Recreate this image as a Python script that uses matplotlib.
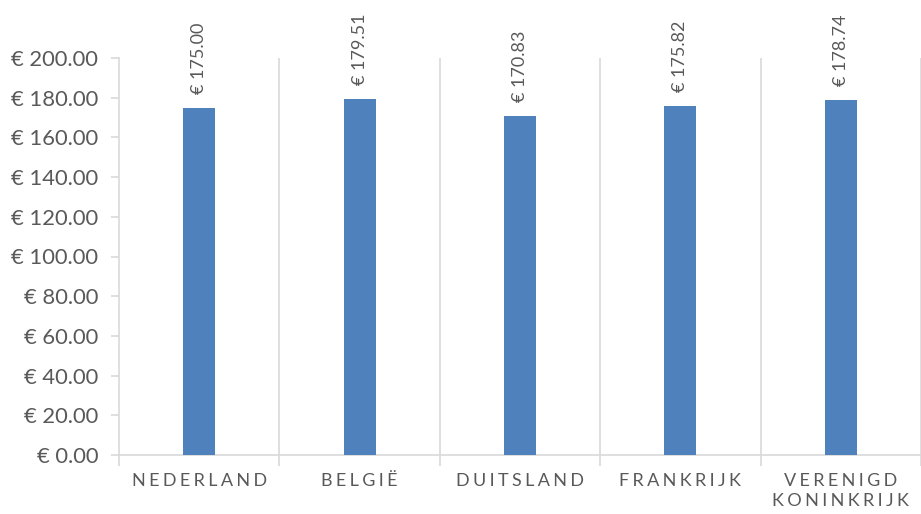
import numpy as np
import matplotlib.pyplot as plt

# Data
countries = ['NEDERLAND', 'BELGIË', 'DUITSLAND', 'FRANKRIJK', 'VERENIGD\nKONINKRIJK']
prices = [175.00, 179.51, 170.83, 175.82, 178.74]
yticks = [0, 20, 40, 60, 80, 100, 120, 140, 160, 180, 200]

plt.rcParams['font.family'] = ['Lato', 'DejaVu Sans']

bar_color = '#4F81BD'
text_color = '#595959'
line_color = '#D9D9D9'


def spaced(s):
    # letter spacing like the original axis labels
    return '\n'.join('\u2009\u200a'.join(list(line)) for line in s.split('\n'))


fig = plt.figure(figsize=(9.21, 5.14), dpi=100)
ax = fig.add_axes([119 / 921, 59 / 514, (921 - 119) / 921, 397 / 514])

x = np.arange(len(countries))
ax.bar(x, prices, width=0.2, color=bar_color, zorder=3)

for xi, v in zip(x, prices):
    ax.annotate(f'€ {v:.2f}', (xi, v), xytext=(0, 10), textcoords='offset points',
                rotation=90, ha='center', va='bottom', fontsize=13, color=text_color)

ax.set_xlim(-0.5, -0.5 + 802 / 161.6)
ax.set_ylim(0, 200)

# separators between categories
for b in np.arange(0.5, len(countries), 1):
    ax.axvline(b, color=line_color, lw=1.2, zorder=1)

ax.set_xticks(x)
ax.set_xticklabels([spaced(c) for c in countries], fontsize=13, color=text_color,
                   linespacing=1.3)
ax.tick_params(axis='x', which='major', length=0, pad=13)
ax.set_xticks(np.arange(-0.5, len(countries), 1), minor=True)
ax.tick_params(axis='x', which='minor', length=8, color=line_color, width=1.2)

ax.set_yticks(yticks)
ax.set_yticklabels([f'€ {t:.2f}' for t in yticks], fontsize=15.8, color=text_color)
ax.tick_params(axis='y', length=6, color=line_color, width=1.2, pad=9)

for s in ['top', 'right']:
    ax.spines[s].set_visible(False)
for s in ['left', 'bottom']:
    ax.spines[s].set_color(line_color)
    ax.spines[s].set_linewidth(1.2)

fig.savefig('out.png', dpi=100)
